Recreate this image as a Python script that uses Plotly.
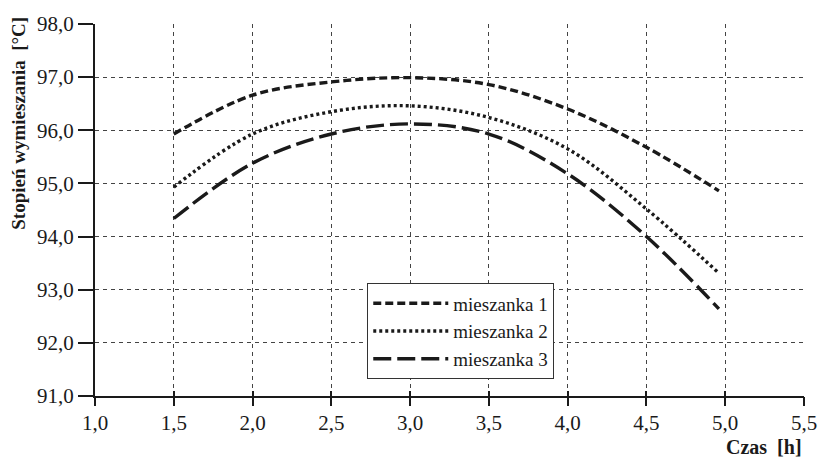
import plotly.graph_objects as go

# Czas mieszania [h]
czas_1 = [1.5, 2.0, 2.5, 3.0, 3.5, 4.0, 4.5, 4.96]
czas_2 = [1.5, 2.0, 2.5, 3.0, 3.5, 4.0, 4.5, 4.96]
czas_3 = [1.5, 2.0, 2.5, 3.0, 3.5, 4.0, 4.5, 4.96]

# Stopień wymieszania [°C]
mieszanka_1 = [95.93, 96.66, 96.91, 96.99, 96.86, 96.40, 95.68, 94.86]
mieszanka_2 = [94.93, 95.93, 96.35, 96.46, 96.24, 95.65, 94.52, 93.31]
mieszanka_3 = [94.34, 95.38, 95.93, 96.12, 95.93, 95.18, 94.00, 92.64]

nazwy = ["mieszanka 1", "mieszanka 2", "mieszanka 3"]

x_ticks = [1.0, 1.5, 2.0, 2.5, 3.0, 3.5, 4.0, 4.5, 5.0, 5.5]
y_ticks = [91.0, 92.0, 93.0, 94.0, 95.0, 96.0, 97.0, 98.0]

serif = "Liberation Serif"
ink = "#1a1a1a"

fig = go.Figure()

serie = [
    (czas_1, mieszanka_1, "8px,4px"),
    (czas_2, mieszanka_2, "3px,3px"),
    (czas_3, mieszanka_3, "18px,6px"),
]
for (xs, ys, dash), name in zip(serie, nazwy):
    fig.add_trace(go.Scatter(
        x=xs, y=ys, name=name, mode="lines",
        line=dict(color=ink, width=3.4, dash=dash, shape="spline", smoothing=1.0),
    ))

# invisible helper traces so the extra tick axes (outer and inner tick marks) are drawn
for ax in ("x2", "x3"):
    fig.add_trace(go.Scatter(x=[1.0], y=[91.0], xaxis=ax, mode="markers",
                             marker=dict(opacity=0), showlegend=False, hoverinfo="skip"))

grid = dict(showgrid=True, gridcolor="#444", gridwidth=1, griddash="4px,4px")
tick_axis = dict(range=[1.0, 5.5], tickvals=x_ticks, overlaying="x", anchor="y",
                 side="bottom", showticklabels=False, showgrid=False, zeroline=False,
                 tickwidth=2, tickcolor=ink, showline=False)

fig.update_layout(
    width=829, height=458,
    margin=dict(l=95, r=16, t=16, b=62),
    paper_bgcolor="white", plot_bgcolor="white",
    separators=", ",
    font=dict(family=serif, size=20, color=ink),
    xaxis=dict(
        range=[1.0, 5.5], tickvals=x_ticks, tickformat=".1f",
        showline=True, linecolor=ink, linewidth=2,
        ticks="outside", ticklen=7, tickwidth=2, tickcolor=ink,
        tickfont=dict(family=serif, size=21, color=ink),
        zeroline=False, **grid,
    ),
    xaxis2=dict(ticks="outside", ticklen=9, **tick_axis),
    xaxis3=dict(ticks="inside", ticklen=5, **tick_axis),
    yaxis=dict(
        range=[91.0, 98.0], tickvals=y_ticks, tickformat=".1f",
        showline=True, linecolor=ink, linewidth=2,
        ticks="outside", ticklen=15, tickwidth=2, tickcolor=ink,
        tickfont=dict(family=serif, size=21, color=ink),
        zeroline=False, **grid,
    ),
    legend=dict(
        x=0.384, y=0.3026, xanchor="left", yanchor="top",
        bgcolor="white", bordercolor="#333", borderwidth=1,
        font=dict(family=serif, size=19, color=ink),
        itemwidth=75, tracegroupgap=0,
    ),
    annotations=[
        dict(text="<b>Stopień wymieszania  [°C]</b>", textangle=-90,
             xref="paper", yref="paper", x=-0.108, y=0.733,
             xanchor="center", yanchor="middle", showarrow=False,
             font=dict(family=serif, size=19, color=ink)),
        dict(text="<b>Czas  [h]</b>",
             xref="paper", yref="paper", x=1.0, y=-0.136,
             xanchor="right", yanchor="middle", showarrow=False,
             font=dict(family=serif, size=20, color=ink)),
    ],
)

fig.write_html("out.html")
